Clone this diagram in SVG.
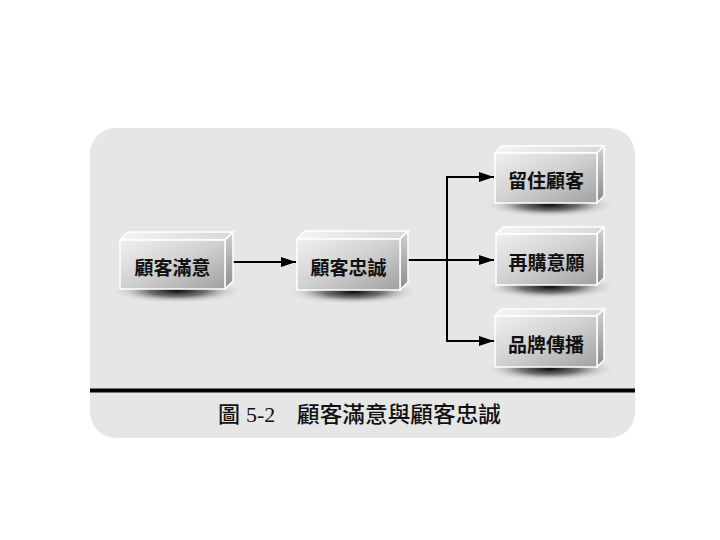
<svg xmlns="http://www.w3.org/2000/svg" width="720" height="540" viewBox="0 0 720 540">
<defs>
<style>
.lbl{font-family:"Liberation Serif","Noto Sans CJK TC",serif;font-size:19px;font-weight:bold;fill:#111;text-anchor:middle}
.ttl{font-family:"Liberation Serif","Noto Sans CJK TC",serif;font-size:22px;font-weight:500;fill:#111}
.front{fill:url(#gFront);stroke:#fff;stroke-width:1.5}
.top{fill:url(#gTop);stroke:#fff;stroke-width:1.5}
.side{fill:url(#gSide);stroke:#fff;stroke-width:1.5}
.shadow{fill:url(#gShadow)}
.conn{fill:none;stroke:#000;stroke-width:2}
</style>
<linearGradient id="gFront" x1="0" y1="0" x2="1" y2="1">
<stop offset="0" stop-color="#f0f0f0"/>
<stop offset="0.5" stop-color="#d0d0d0"/>
<stop offset="1" stop-color="#a0a0a0"/>
</linearGradient>
<linearGradient id="gTop" x1="0" y1="0" x2="1" y2="0">
<stop offset="0" stop-color="#f4f4f4"/>
<stop offset="1" stop-color="#d8d8d8"/>
</linearGradient>
<linearGradient id="gSide" x1="0" y1="0" x2="0" y2="1">
<stop offset="0" stop-color="#d0d0d0"/>
<stop offset="1" stop-color="#8c8c8c"/>
</linearGradient>
<radialGradient id="gShadow" cx="0.5" cy="0.5" r="0.5">
<stop offset="0" stop-color="#000" stop-opacity="0.95"/>
<stop offset="0.45" stop-color="#222" stop-opacity="0.6"/>
<stop offset="0.8" stop-color="#777" stop-opacity="0.15"/>
<stop offset="1" stop-color="#999" stop-opacity="0"/>
</radialGradient>
<marker id="arr" markerWidth="16" markerHeight="10" refX="15" refY="5" orient="auto" markerUnits="userSpaceOnUse">
<path d="M0,0 L15,5 L0,10 Z" fill="#000"/>
</marker>
</defs>

<rect x="90" y="128" width="545" height="310" rx="26" ry="26" fill="#e6e6e6"/>
<rect x="90" y="388.5" width="545" height="4" fill="#000"/>

<g id="connectors">
<path class="conn" d="M228,262 H296" marker-end="url(#arr)"/>
<path class="conn" d="M401,260 H494" marker-end="url(#arr)"/>
<path class="conn" d="M447,260 V177 H494" marker-end="url(#arr)"/>
<path class="conn" d="M447,260 V341 H494" marker-end="url(#arr)"/>
</g>

<g id="n1">
<ellipse class="shadow" cx="177" cy="291" rx="64" ry="12"/>
<polygon class="top" points="120,240 128,232 233,232 225,240"/>
<polygon class="side" points="225,240 233,232 233,281 225,289"/>
<rect class="front" x="120" y="240" width="105" height="49"/>
<text class="lbl" x="172.5" y="275">顧客滿意</text>
</g>

<g id="n2">
<ellipse class="shadow" cx="353" cy="292" rx="64" ry="12"/>
<polygon class="top" points="297,239 305,231 408,231 400,239"/>
<polygon class="side" points="400,239 408,231 408,282 400,290"/>
<rect class="front" x="297" y="239" width="103" height="51"/>
<text class="lbl" x="348.5" y="275">顧客忠誠</text>
</g>

<g id="n3">
<ellipse class="shadow" cx="550" cy="205" rx="64" ry="12"/>
<polygon class="top" points="495,153 502,146 604,146 597,153"/>
<polygon class="side" points="597,153 604,146 604,196 597,203"/>
<rect class="front" x="495" y="153" width="102" height="50"/>
<text class="lbl" x="546" y="188">留住顧客</text>
</g>

<g id="n4">
<ellipse class="shadow" cx="550" cy="287" rx="64" ry="12"/>
<polygon class="top" points="496,234 503,227 604,227 597,234"/>
<polygon class="side" points="597,234 604,227 604,278 597,285"/>
<rect class="front" x="496" y="234" width="101" height="51"/>
<text class="lbl" x="546.5" y="270">再購意願</text>
</g>

<g id="n5">
<ellipse class="shadow" cx="550" cy="369" rx="64" ry="12"/>
<polygon class="top" points="495,316 502,309 604,309 597,316"/>
<polygon class="side" points="597,316 604,309 604,360 597,367"/>
<rect class="front" x="495" y="316" width="102" height="51"/>
<text class="lbl" x="546" y="352">品牌傳播</text>
</g>

<text class="ttl" y="422"><tspan x="218">圖</tspan><tspan x="246">5-2</tspan><tspan x="297" textLength="204" lengthAdjust="spacingAndGlyphs">顧客滿意與顧客忠誠</tspan></text>
</svg>
